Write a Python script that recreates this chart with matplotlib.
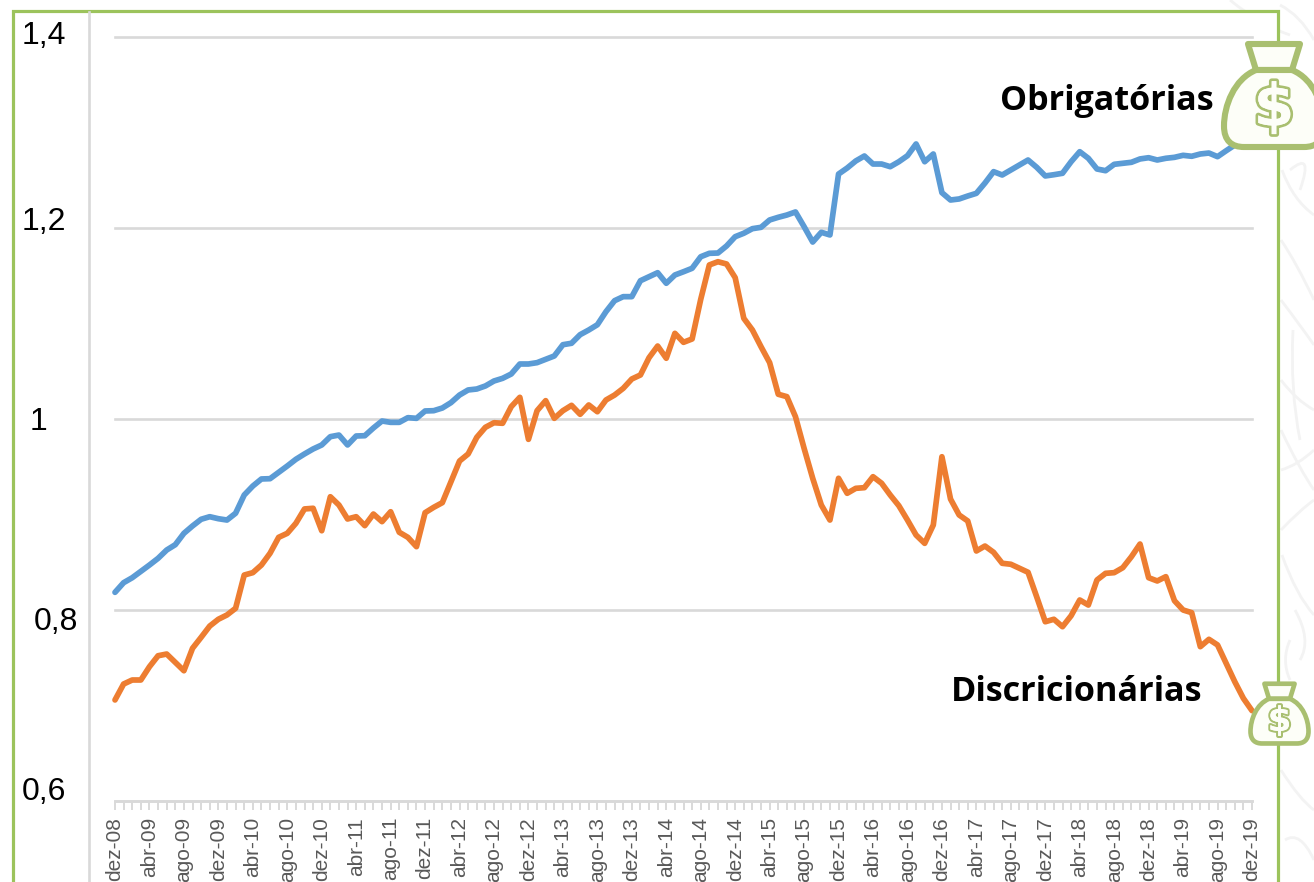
import matplotlib
matplotlib.use("Agg")
import matplotlib.pyplot as plt
import numpy as np
from matplotlib.lines import Line2D
from matplotlib.patches import PathPatch, Rectangle
from matplotlib.path import Path
from matplotlib.transforms import Affine2D, ScaledTranslation
import matplotlib.patheffects as pe

obrigatorias = [
    .8185, .8286, .8338, .8405, .8471, .8541, .8628, .8684, .8803, .8880, .8950, .8977, .8956, .8942, .9013, .9204,
    .9298, .9372, .9375, .9442, .9508, .9578, .9634, .9686, .9728, .9815, .9832, .9728, .9822, .9825, .9906, .9979,
    .9965, .9965, 1.0014, 1.0007, 1.0084, 1.0087, 1.0115, 1.0171, 1.0251, 1.0304, 1.0314, 1.0346, 1.0398, 1.0426,
    1.0471, 1.0576, 1.0576, 1.0590, 1.0625, 1.0660, 1.0778, 1.0793, 1.0883, 1.0932, 1.0987, 1.1124, 1.1239, 1.1281,
    1.1281, 1.1448, 1.1490, 1.1532, 1.1421, 1.1508, 1.1542, 1.1578, 1.1699, 1.1735, 1.1738, 1.1812, 1.1909, 1.1945,
    1.1993, 1.2007, 1.2084, 1.2112, 1.2136, 1.2168, 1.2014, 1.1853, 1.1955, 1.1927, 1.2565, 1.2628, 1.2702, 1.2754,
    1.2670, 1.2670, 1.2642, 1.2694, 1.2757, 1.2880, 1.2694, 1.2775, 1.2370, 1.2293, 1.2304, 1.2335, 1.2363, 1.2471,
    1.2590, 1.2555, 1.2607, 1.2660, 1.2712, 1.2636, 1.2545, 1.2558, 1.2573, 1.2694, 1.2799, 1.2730, 1.2618, 1.2600,
    1.2667, 1.2677, 1.2688, 1.2723, 1.2736, 1.2712, 1.2730, 1.2740, 1.2761, 1.2751, 1.2775, 1.2785, 1.2747, 1.2809,
    1.2869, 1.2921, 1.2974,
]
discricionarias = [
    .7058, .7225, .7267, .7267, .7406, .7521, .7539, .7452, .7364, .7599, .7714, .7832, .7903, .7948, .8018, .8366,
    .8391, .8471, .8594, .8761, .8803, .8908, .9058, .9065, .8830, .9186, .9099, .8953, .8977, .8883, .9005, .8925,
    .9029, .8814, .8761, .8663, .9019, .9075, .9124, .9343, .9560, .9634, .9808, .9913, .9961, .9955, 1.0129, 1.0227,
    .9787, 1.0087, 1.0192, 1.0007, 1.0087, 1.0143, 1.0049, 1.0147, 1.0076, 1.0199, 1.0251, 1.0321, 1.0419, 1.0461,
    1.0642, 1.0764, 1.0636, 1.0897, 1.0803, 1.0838, 1.1253, 1.1613, 1.1647, 1.1623, 1.1480, 1.1054, 1.0932, 1.0757,
    1.0590, 1.0259, 1.0234, 1.0024, .9693, .9379, .9099, .8942, .9379, .9222, .9274, .9281, .9396, .9327, .9204,
    .9092, .8942, .8785, .8698, .8890, .9605, .9162, .8995, .8932, .8618, .8670, .8604, .8489, .8479, .8437, .8395,
    .8139, .7877, .7903, .7825, .7940, .8105, .8052, .8314, .8384, .8391, .8443, .8558, .8691, .8338, .8304, .8349,
    .8097, .8000, .7972, .7616, .7693, .7634, .7442, .7249, .7075, .6946,
]
x_labels = [
    "dez-08", "abr-09", "ago-09", "dez-09", "abr-10", "ago-10", "dez-10", "abr-11", "ago-11", "dez-11", "abr-12",
    "ago-12", "dez-12", "abr-13", "ago-13", "dez-13", "abr-14", "ago-14", "dez-14", "abr-15", "ago-15", "dez-15",
    "abr-16", "ago-16", "dez-16", "abr-17", "ago-17", "dez-17", "abr-18", "ago-18", "dez-18", "abr-19", "ago-19",
    "dez-19",
]
y_values = [0.6, 0.8, 1.0, 1.2, 1.4]
y_labels = ["0,6", "0,8", "1", "1,2", "1,4"]

W, H = 1314, 882
BLUE, ORANGE = "#5b9bd5", "#ed7d31"
GREY, GREEN, BAG = "#d9d9d9", "#9cc35c", "#a9bf70"
plt.rcParams["font.family"] = ["Liberation Sans", "DejaVu Sans"]

fig = plt.figure(figsize=(W / 100, H / 100), dpi=100, facecolor="white")
px = Affine2D().scale(1 / W, -1 / H).translate(0, 1) + fig.transFigure

# pale watermark to the right of the frame
wm = [
    [(1281, 240), (1296, 262), (1314, 300)], [(1281, 300), (1300, 325), (1314, 345)],
    [(1281, 380), (1296, 400), (1314, 410)], [(1281, 430), (1300, 470), (1314, 490)],
    [(1293, 330), (1290, 390), (1300, 440)], [(1281, 470), (1298, 465), (1314, 450)],
    [(1281, 530), (1300, 510), (1314, 500)], [(1282, 555), (1296, 595), (1314, 615)],
    [(1290, 640), (1281, 660), (1290, 680)], [(1295, 610), (1312, 640), (1300, 660)],
    [(1282, 170), (1293, 200), (1314, 215)], [(1290, 170), (1314, 150), (1300, 190)],
    [(1230, 0), (1260, 25), (1290, 35)], [(1280, 5), (1300, 15), (1314, 40)],
    [(1281, 770), (1300, 800), (1314, 810)], [(1285, 840), (1300, 830), (1314, 860)],
]
for a, b, c in wm:
    fig.add_artist(PathPatch(Path([a, b, c], [Path.MOVETO, Path.CURVE3, Path.CURVE3]), fc="none", ec="#f3f3f3",
                             lw=2, transform=px, zorder=0.2))

fig.add_artist(Rectangle((12.5, 10.5), 1265, 900, fc="white", ec=GREEN, lw=2.3, transform=px, zorder=0.3))
fig.add_artist(Line2D([89, 89], [12, 882], color=GREY, lw=1.9, transform=px, zorder=0.4))

ax = fig.add_axes([115 / W, 1 - 801 / H, (1252 - 115) / W, (801 - 37) / H], zorder=1)
ax.patch.set_alpha(0)
months = np.arange(len(obrigatorias))
ax.plot(months, obrigatorias, color=BLUE, lw=4.1, solid_capstyle="round", solid_joinstyle="round", clip_on=False, zorder=3)
ax.plot(months, discricionarias, color=ORANGE, lw=4.1, solid_capstyle="round", solid_joinstyle="round", clip_on=False, zorder=4)
ax.set_xlim(0, len(months) - 1)
ax.set_ylim(y_values[0], y_values[-1])
for s in ("left", "right", "top"):
    ax.spines[s].set_visible(False)
ax.spines["bottom"].set_color(GREY)
ax.spines["bottom"].set_linewidth(1.9)
ax.set_axisbelow(True)
ax.grid(axis="y", color=GREY, lw=1.9, clip_on=False)
ax.set_xticks(months, minor=True)
ax.set_xticks(months[::4], x_labels)
ax.tick_params(axis="x", which="both", length=6.5, width=1.4, color=GREY)
ax.tick_params(axis="x", which="major", pad=5, labelsize=15, labelcolor="#595959", labelrotation=90)
ax.set_yticks(y_values, y_labels)
ax.tick_params(axis="y", length=0, pad=36, labelsize=23, labelcolor="black")
offsets = [(1, 12), (13, -9), (-18, 0), (1, 9), (1, 5)]
for lab, (dx, dy) in zip(ax.get_yticklabels(), offsets):
    lab.set_transform(lab.get_transform() + ScaledTranslation(dx / 100, dy / 100, fig.dpi_scale_trans))

fig.text(1214 / W, 1 - 101 / H, "Obrigatórias", ha="right", va="center", family="Open Sans", weight="bold", fontsize=24.6, color="black", zorder=6)
fig.text(1202 / W, 1 - 692 / H, "Discricionárias", ha="right", va="center", family="Open Sans", weight="bold", fontsize=24.6, color="black", zorder=6)


def bag(cx, top, s):
    t = Affine2D().scale(s, s).translate(cx, top) + px
    m, l, c, z = Path.MOVETO, Path.LINETO, Path.CURVE4, Path.CLOSEPOLY
    body = Path([(-18, 29), (-40, 38), (-50, 65), (-50, 85), (-50, 100), (-42, 106), (-30, 106), (30, 106),
                 (42, 106), (50, 100), (50, 85), (50, 65), (40, 38), (18, 29), (-18, 29)],
                [m, c, c, c, c, c, c, l, c, c, c, c, c, c, z])
    rim = Path([(-26, 3), (26, 3), (18, 29), (-18, 29), (-26, 3)], [m, l, l, l, z])
    for p in (rim, body):
        fig.add_artist(PathPatch(p, fc="#fdfef8", ec=BAG, lw=4.4 * s ** 0.5, joinstyle="round", transform=t, zorder=5))
    fig.text(cx / W, 1 - (top + 68 * s) / H, "$", ha="center", va="center", fontsize=42 * s, weight="bold",
             color="#fdfef8", family="DejaVu Sans", zorder=6,
             path_effects=[pe.withStroke(linewidth=4 * s ** 0.5, foreground=BAG), pe.Normal()])


bag(1274, 41, 1.0)
bag(1279.5, 682, 0.58)

fig.savefig("out.png", dpi=100, facecolor="white")
